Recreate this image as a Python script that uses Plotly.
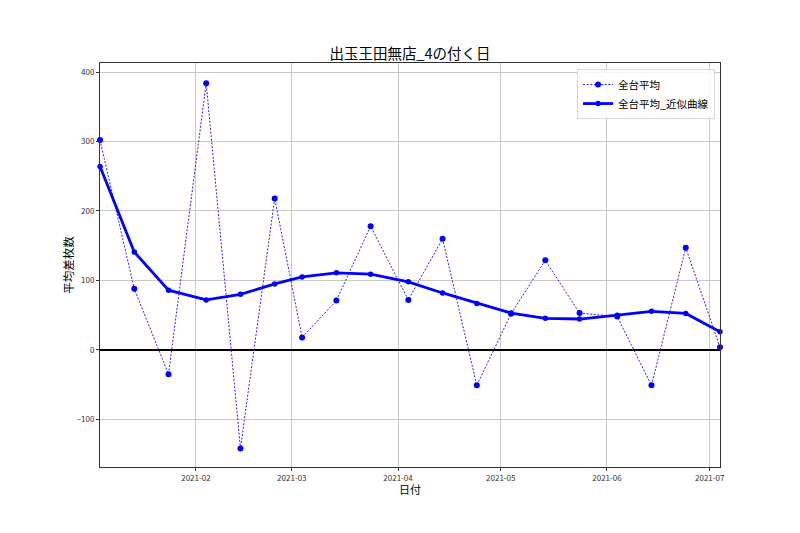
import plotly.graph_objects as go

dates = ["2021-01-04", "2021-01-14", "2021-01-24", "2021-02-04", "2021-02-14", "2021-02-24",
         "2021-03-04", "2021-03-14", "2021-03-24", "2021-04-04", "2021-04-14", "2021-04-24",
         "2021-05-04", "2021-05-14", "2021-05-24", "2021-06-04", "2021-06-14", "2021-06-24",
         "2021-07-04"]
avg_values = [302, 88, -35, 384, -142, 218, 18, 71, 178, 72, 160, -51,
              52, 129, 53, 48, -51, 147, 4]
smooth_values = [264, 141, 86, 72, 80, 95, 105, 111, 109, 98, 82, 67,
                 53, 45.5, 44.5, 50, 55.5, 52.5, 26]
x_tick_vals = ["2021-02-01", "2021-03-01", "2021-04-01", "2021-05-01", "2021-06-01", "2021-07-01"]
x_tick_text = ["2021-02", "2021-03", "2021-04", "2021-05", "2021-06", "2021-07"]
y_tick_vals = [-100, 0, 100, 200, 300, 400]

FONT = "Noto Sans CJK JP"

fig = go.Figure()
fig.add_trace(go.Scatter(
    x=dates, y=avg_values, name="全台平均", mode="lines+markers",
    line=dict(color="#2020ff", width=1, dash="2px,1.6px"),
    marker=dict(color="#0000ff", size=6),
    cliponaxis=False,
))
fig.add_trace(go.Scatter(
    x=dates, y=smooth_values, name="全台平均_近似曲線", mode="lines+markers",
    line=dict(color="#0000ff", width=2.8),
    marker=dict(color="#0000ff", size=5.5),
    cliponaxis=False,
))

fig.update_layout(
    width=800, height=533,
    margin=dict(l=100, r=80, t=63, b=66),
    paper_bgcolor="white", plot_bgcolor="white",
    font=dict(family=FONT, color="#222222"),
    title=dict(text="出玉王田無店_4の付く日", x=0.5, xref="paper", xanchor="center",
               y=1 - 54 / 533, yanchor="middle",
               font=dict(size=14.5, color="black", family=FONT)),
    legend=dict(x=0.992, y=0.985, xanchor="right", yanchor="top",
                bgcolor="rgba(255,255,255,0.85)", bordercolor="#d8d8d8", borderwidth=1,
                font=dict(size=10.5, color="black", family=FONT),
                tracegroupgap=0, itemwidth=30),
    showlegend=True,
    annotations=[dict(text="日付", xref="paper", yref="paper", x=0.5, y=-0.0545,
                      xanchor="center", yanchor="middle", showarrow=False,
                      font=dict(size=11, color="black", family=FONT))],
)
fig.update_xaxes(
    range=["2021-01-04", "2021-07-04"],
    tickvals=x_tick_vals, ticktext=x_tick_text,
    tickfont=dict(size=8, color="#333333"),
    showgrid=True, gridcolor="#c8c8c8", gridwidth=1,
    showline=True, linecolor="#333333", linewidth=1, mirror=True,
    ticks="outside", ticklen=3, tickcolor="#333333",
    zeroline=False,
)
fig.update_yaxes(
    range=[-168.5, 413],
    tickvals=y_tick_vals,
    tickfont=dict(size=8, color="#333333"),
    showgrid=True, gridcolor="#c8c8c8", gridwidth=1,
    showline=True, linecolor="#333333", linewidth=1, mirror=True,
    ticks="outside", ticklen=3, tickcolor="#333333",
    zeroline=True, zerolinecolor="black", zerolinewidth=1.5,
    title=dict(text="平均差枚数", font=dict(size=11.5, color="black"), standoff=0),
)

fig.write_html("out.html")
